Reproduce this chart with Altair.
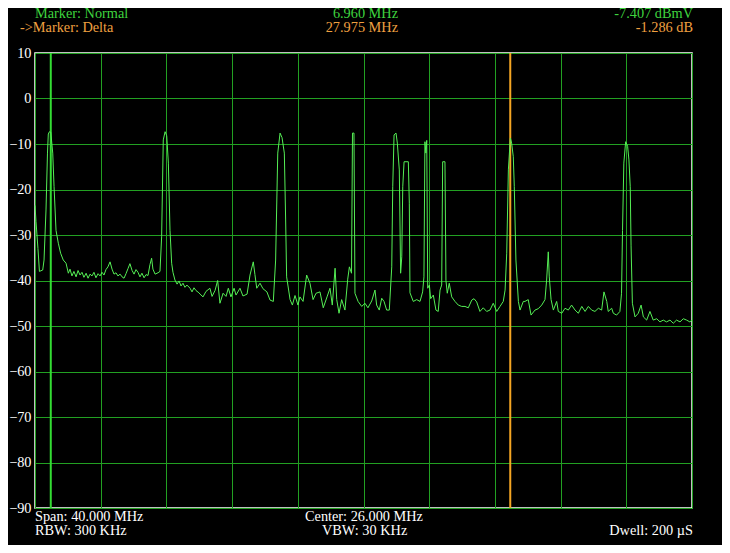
import altair as alt
import pandas as pd

# Trace: frequency (MHz) and level (dBmV)
freq_mhz = [
    6.00, 6.06, 6.18, 6.27, 6.47, 6.55, 6.67, 6.76, 6.81, 6.88, 6.96, 7.08, 7.16, 7.28, 7.42, 7.56, 7.72, 7.89, 8.03,
    8.13, 8.25, 8.37, 8.50, 8.62, 8.74, 8.86, 8.98, 9.11, 9.23, 9.35, 9.47, 9.59, 9.71, 9.84, 9.96, 10.08, 10.20,
    10.32, 10.44, 10.57, 10.69, 10.81, 10.93, 11.05, 11.18, 11.30, 11.42, 11.54, 11.66, 11.78, 11.91, 12.03, 12.15,
    12.27, 12.39, 12.51, 12.64, 12.76, 12.88, 13.00, 13.10, 13.18, 13.31, 13.49, 13.61, 13.71, 13.81, 13.92, 14.02,
    14.12, 14.22, 14.32, 14.40, 14.52, 14.65, 14.77, 14.89, 15.01, 15.13, 15.25, 15.44, 15.56, 15.68, 15.80, 15.98,
    16.05, 16.23, 16.41, 16.65, 16.78, 16.96, 17.12, 17.26, 17.45, 17.63, 17.77, 17.93, 18.12, 18.24, 18.48, 18.66,
    18.91, 19.09, 19.29, 19.39, 19.50, 19.70, 19.88, 20.12, 20.31, 20.51, 20.65, 20.78, 20.92, 21.04, 21.18, 21.26,
    21.32, 21.53, 21.67, 21.83, 22.01, 22.13, 22.32, 22.54, 22.74, 22.93, 23.11, 23.35, 23.55, 23.78, 23.96, 24.10,
    24.27, 24.37, 24.51, 24.67, 24.87, 25.04, 25.14, 25.27, 25.33, 25.42, 25.48, 25.67, 25.89, 26.09, 26.27, 26.50,
    26.70, 26.80, 26.96, 27.11, 27.25, 27.41, 27.57, 27.72, 27.78, 27.86, 27.98, 28.06, 28.18, 28.26, 28.33, 28.39,
    28.47, 28.73, 28.79, 28.83, 29.03, 29.24, 29.44, 29.60, 29.68, 29.74, 29.80, 29.85, 29.91, 30.01, 30.09, 30.25,
    30.41, 30.55, 30.66, 30.76, 30.82, 30.96, 31.02, 31.10, 31.22, 31.37, 31.57, 31.77, 31.98, 32.18, 32.38, 32.59,
    32.73, 32.89, 33.09, 33.29, 33.50, 33.70, 33.90, 34.11, 34.31, 34.51, 34.62, 34.72, 34.82, 34.94, 35.02, 35.12,
    35.18, 35.28, 35.43, 35.53, 35.73, 35.83, 36.03, 36.20, 36.44, 36.64, 36.85, 37.05, 37.15, 37.25, 37.31, 37.42,
    37.56, 37.76, 37.86, 38.07, 38.27, 38.47, 38.67, 38.88, 39.08, 39.29, 39.49, 39.69, 39.89, 40.09, 40.30, 40.50,
    40.64, 40.81, 40.90, 41.11, 41.21, 41.41, 41.61, 41.71, 41.77, 41.85, 41.96, 42.08, 42.16, 42.24, 42.29, 42.37,
    42.53, 42.73, 42.90, 43.04, 43.24, 43.44, 43.64, 43.85, 44.05, 44.25, 44.45, 44.66, 44.86, 45.06, 45.27, 45.47,
    45.67, 45.87, 46.00,
]
level_dbmv = [
    -23.5, -27.0, -33.0, -38.0, -37.7, -35.5, -24.5, -12.0, -7.8, -7.3, -7.4, -12.0, -19.4, -29.0, -31.8, -34.0, -35.5, -36.2, -38.4,
    -37.5, -39.0, -38.0, -39.2, -37.8, -38.8, -38.2, -39.3, -38.4, -39.5, -38.6, -39.0, -38.2, -39.4, -38.5, -39.0, -38.2, -38.8,
    -37.6, -37.0, -35.9, -37.5, -38.6, -38.3, -39.0, -38.6, -39.2, -39.5, -38.5, -37.4, -36.3, -37.8, -38.6, -37.6,
    -38.2, -39.2, -38.4, -39.4, -38.7, -38.9, -36.5, -35.1, -37.5, -38.6, -38.3, -38.0, -30.4, -9.1, -7.3, -8.2,
    -14.2, -29.0, -36.2, -38.2, -39.9, -40.8, -40.1, -41.2, -40.6, -41.5, -41.0, -41.7, -42.5, -41.6, -42.2, -42.7,
    -43.0, -43.6, -42.4, -41.7, -43.5, -42.2, -40.0, -45.0, -42.8, -43.5, -41.7, -43.6, -41.7, -43.2, -41.7, -43.4,
    -43.0, -38.8, -35.9, -38.7, -41.7, -40.6, -41.8, -42.5, -44.3, -44.6, -35.5, -12.0, -7.6, -8.6, -12.0, -26.7,
    -39.2, -44.2, -45.4, -43.3, -45.4, -43.6, -44.6, -38.8, -40.6, -44.2, -42.8, -42.5, -46.0, -43.6, -41.7, -45.4,
    -37.3, -44.2, -47.2, -44.2, -46.5, -39.7, -37.0, -38.4, -7.6, -7.6, -42.8, -44.6, -45.7, -45.0, -46.0, -44.5,
    -42.1, -45.4, -46.5, -43.9, -44.6, -46.5, -46.5, -37.0, -19.4, -8.0, -7.6, -9.8, -15.7, -38.4, -34.8, -19.4,
    -13.9, -13.9, -23.0, -42.7, -44.6, -44.2, -44.6, -42.5, -39.2, -9.5, -12.0, -9.2, -41.7, -41.0, -44.0, -43.2,
    -46.5, -46.8, -42.1, -41.0, -13.9, -13.9, -40.0, -42.8, -40.6, -43.6, -44.6, -45.4, -45.7, -45.7, -46.0, -44.3,
    -44.0, -44.7, -46.8, -46.0, -46.8, -46.5, -45.0, -46.8, -45.7, -44.6, -42.1, -34.0, -15.7, -8.7, -9.8, -12.8,
    -19.4, -35.5, -44.6, -46.5, -44.6, -44.6, -44.2, -47.6, -46.5, -46.2, -45.4, -44.2, -39.9, -33.7, -39.2, -44.2,
    -46.5, -44.6, -46.8, -47.2, -46.1, -46.5, -45.4, -46.5, -47.2, -45.7, -46.8, -45.7, -46.5, -46.8, -46.1, -46.5,
    -42.5, -44.6, -46.8, -46.1, -47.2, -47.6, -46.8, -42.8, -29.0, -14.2, -9.5, -10.5, -13.5, -19.4, -32.4, -45.0,
    -48.0, -47.2, -45.4, -48.0, -48.7, -46.8, -48.7, -48.4, -49.1, -48.7, -49.1, -48.7, -49.4, -48.7, -49.1, -48.4,
    -48.7, -49.1, -48.7,
]

marker_freqs = [6.960, 34.935]
marker_names = ["Normal", "Delta"]

x_grid = [6, 10, 14, 18, 22, 26, 30, 34, 38, 42, 46]
y_ticks = [10, 0, -10, -20, -30, -40, -50, -60, -70, -80, -90]

header_left = ["Marker: Normal", "->Marker: Delta"]
header_mid = ["6.960 MHz", "27.975 MHz"]
header_right = ["-7.407 dBmV", "-1.286 dB"]
footer_left = ["Span: 40.000 MHz", "RBW: 300 KHz"]
footer_mid = ["Center: 26.000 MHz", "VBW: 30 KHz"]
footer_right = ["Dwell: 200 \u00b5S"]

GREEN_T = "#3fd43f"
ORANGE_T = "#f0a040"
FONT = "Liberation Serif"
FS = 14.3

trace = pd.DataFrame({"f": freq_mhz, "db": level_dbmv})
markers = pd.DataFrame({"f": marker_freqs, "m": marker_names})

xs = alt.Scale(domain=[6, 46], nice=False, zero=False)
ys = alt.Scale(domain=[-90, 10], nice=False, zero=False)

base_axes = alt.Chart(trace).mark_line(strokeWidth=0, opacity=0).encode(
    x=alt.X("f:Q", scale=xs, axis=alt.Axis(values=x_grid, labels=False, ticks=False, domain=False,
                                           grid=True, gridColor="#22a022", gridWidth=1, title=None)),
    y=alt.Y("db:Q", scale=ys, axis=alt.Axis(values=y_ticks, labels=True, ticks=False, domain=False,
                                            grid=True, gridColor="#22a022", gridWidth=1, title=None,
                                            labelColor="white", labelFont=FONT, labelFontSize=FS,
                                            labelPadding=4)),
)

line = alt.Chart(trace).mark_line(color="#55ee55", strokeWidth=1, interpolate="linear").encode(
    x=alt.X("f:Q", scale=xs), y=alt.Y("db:Q", scale=ys)
)

rules = alt.Chart(markers).mark_rule(strokeWidth=2).encode(
    x=alt.X("f:Q", scale=xs),
    color=alt.Color("m:N", scale=alt.Scale(domain=marker_names, range=["#33dd33", "#f5a623"]), legend=None),
)

one = pd.DataFrame({"a": [0]})


def txt(s, x, y, color, align="left"):
    return alt.Chart(one).mark_text(
        align=align, baseline="alphabetic", font=FONT, fontSize=FS, color=color
    ).encode(x=alt.value(x), y=alt.value(y), text=alt.value(s))


texts = [
    txt(header_left[0], 0, -35, GREEN_T),
    txt(header_left[1], -15, -21, ORANGE_T),
    txt(header_mid[0], 363, -35, GREEN_T, "right"),
    txt(header_mid[1], 363, -21, ORANGE_T, "right"),
    txt(header_right[0], 658, -35, GREEN_T, "right"),
    txt(header_right[1], 658, -21, ORANGE_T, "right"),
    txt(footer_left[0], 0, 468, "white"),
    txt(footer_left[1], 0, 482, "white"),
    txt(footer_mid[0], 270, 468, "white"),
    txt(footer_mid[1], 287, 482, "white"),
    txt(footer_right[0], 658, 482, "white", "right"),
]

chart = alt.layer(base_axes, rules, line, *texts).properties(
    width=657, height=455,
    padding={"left": 27, "top": 45, "right": 30, "bottom": 37},
    autosize="none",
    background="black",
).configure_view(stroke="white", strokeWidth=1.5, fill="black")

chart.save("out.html", embed_options={"renderer": "svg", "actions": False})
